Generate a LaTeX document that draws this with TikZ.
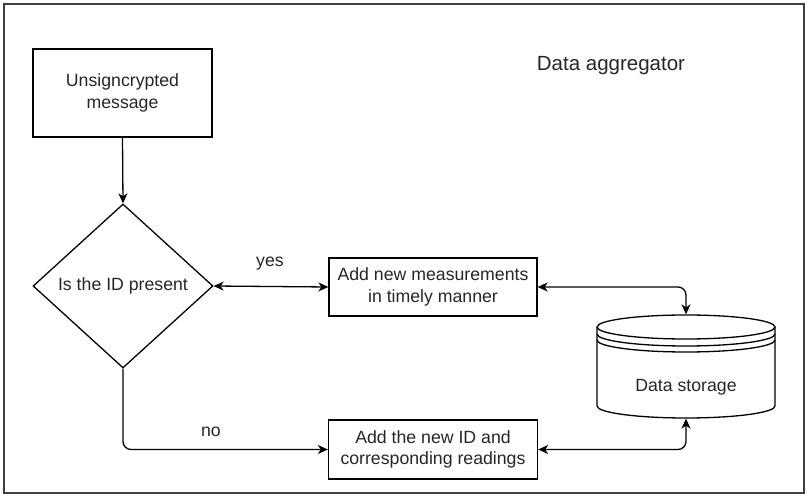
\documentclass[tikz,border=0pt]{standalone}
\usepackage{fontspec}
\setmainfont{Liberation Sans}
\usetikzlibrary{shapes.geometric, arrows.meta}

\begin{document}
\begin{tikzpicture}[x=1pt, y=1pt, line width=1.3pt,
    every node/.style={font=\fontsize{17.7}{21.5}\selectfont, text=black!85},
    procbox/.style={draw, rectangle, align=center, inner sep=0pt},
    tip/.style={-{Stealth[length=10pt, width=9pt, inset=3pt]}},
    twotip/.style={{Stealth[length=10pt, width=9pt, inset=3pt]}-{Stealth[length=10pt, width=9pt, inset=3pt]}}]
      \useasboundingbox (0,0) rectangle (809,498);
      % Data aggregator frame
      \draw[line width=2pt, draw=black!75] (4,494) rectangle (804,5);
      \node[font=\fontsize{20.5}{24}\selectfont] (title) at (611,432) {Data aggregator};
      % incoming message
      \node[procbox, minimum width=179, minimum height=88] (msg) at (122.5,405) {Unsigncrypted\\message};
      % decision
      \node[draw, diamond, minimum width=180, minimum height=164, inner sep=0pt] (check) at (123,212) {Is the ID present};
      % the two actions
      \node[procbox, minimum width=208, minimum height=58] (measure) at (433,211) {Add new measurements\\in timely manner};
      \node[procbox, minimum width=209, minimum height=59] (newid) at (433,48.5) {Add the new ID and\\corresponding readings};
      % Data storage (cylinder drawn by hand round the node)
      \node[minimum width=178, minimum height=103, inner sep=0pt] (store) at (686,131.5) {};
      \draw (686,171) ellipse[x radius=89, y radius=12];
      \draw (597,164) arc[start angle=180, end angle=360, x radius=89, y radius=12];
      \draw (597,158) arc[start angle=180, end angle=360, x radius=89, y radius=12];
      \draw (597,171) -- (597,92) arc[start angle=180, end angle=360, x radius=89, y radius=12] -- (775,171);
      \node (storetext) at (686,111) {Data storage};
      % connectors
      \draw[tip] (msg.south) -- (check.north);
      \draw[twotip] (check.east) -- (measure.west);
      \node (yes) at (270,234) {yes};
      \draw[twotip, rounded corners=8pt] (measure.east) -| (store.north);
      \draw[twotip, rounded corners=8pt] (newid.east) -| (store.south);
      \draw[tip, rounded corners=8pt] (check.south) |- (newid.west);
      \node (no) at (211,66) {no};
\end{tikzpicture}
\end{document}
